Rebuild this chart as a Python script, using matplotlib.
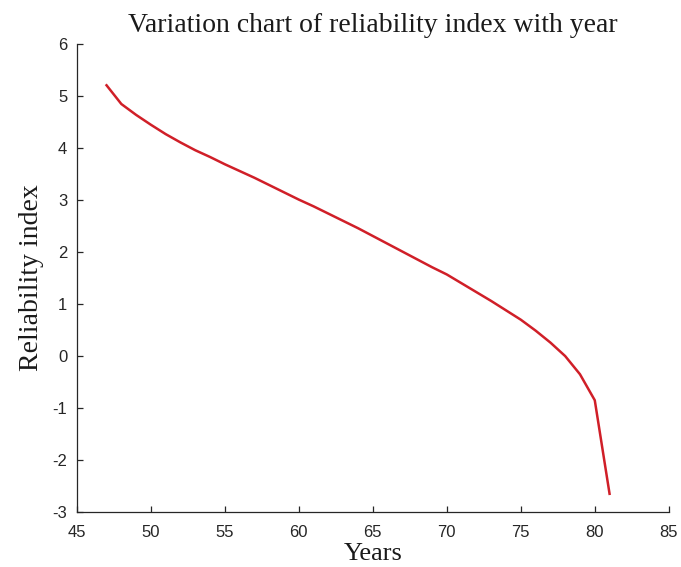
import numpy as np
import matplotlib
matplotlib.use('Agg')
import matplotlib.pyplot as plt

# Reliability index by year
years = [47, 48, 49, 50, 51, 52, 53, 54, 55, 56, 57, 58, 59, 60, 61, 62, 63, 64,
         65, 66, 67, 68, 69, 70, 71, 72, 73, 74, 75, 76, 77, 78, 79, 80, 81]
beta = [5.21, 4.85, 4.64, 4.45, 4.27, 4.11, 3.96, 3.83, 3.69, 3.56, 3.43, 3.29,
        3.15, 3.01, 2.88, 2.74, 2.60, 2.46, 2.31, 2.16, 2.01, 1.86, 1.71, 1.57,
        1.40, 1.23, 1.06, 0.88, 0.70, 0.49, 0.26, 0.00, -0.35, -0.85, -2.65]
x_ticks = [45, 50, 55, 60, 65, 70, 75, 80, 85]
y_ticks = [-3, -2, -1, 0, 1, 2, 3, 4, 5, 6]

plt.rcParams['axes.unicode_minus'] = False
serif = ['Liberation Serif', 'DejaVu Serif']
sans = ['Liberation Sans', 'DejaVu Sans']

fig = plt.figure(figsize=(6.81, 5.67), dpi=100)
ax = fig.add_axes([0.113, 0.097, 0.869, 0.825])

ax.plot(years, beta, color='#d01f28', linewidth=1.8)

ax.set_xlim(45, 85)
ax.set_ylim(-3, 6)
ax.set_xticks(x_ticks)
ax.set_yticks(y_ticks)

for s in ['top', 'right']:
    ax.spines[s].set_visible(False)
for s in ['left', 'bottom']:
    ax.spines[s].set_color('#262626')
    ax.spines[s].set_linewidth(0.9)

ax.tick_params(direction='in', length=4, width=0.9, color='#262626',
               labelsize=12, labelcolor='#262626')
ax.tick_params(axis='x', pad=9)
ax.tick_params(axis='y', pad=7)
for lab in ax.get_xticklabels() + ax.get_yticklabels():
    lab.set_family(sans)

ax.set_title('Variation chart of reliability index with year', family=serif,
             fontsize=20, color='#1a1a1a', pad=9)
ax.set_xlabel('Years', family=serif, fontsize=19, color='#1a1a1a', labelpad=2.5)
ax.set_ylabel('Reliability index', family=serif, fontsize=20, color='#1a1a1a',
              labelpad=6)

fig.savefig('out.png', dpi=100)
